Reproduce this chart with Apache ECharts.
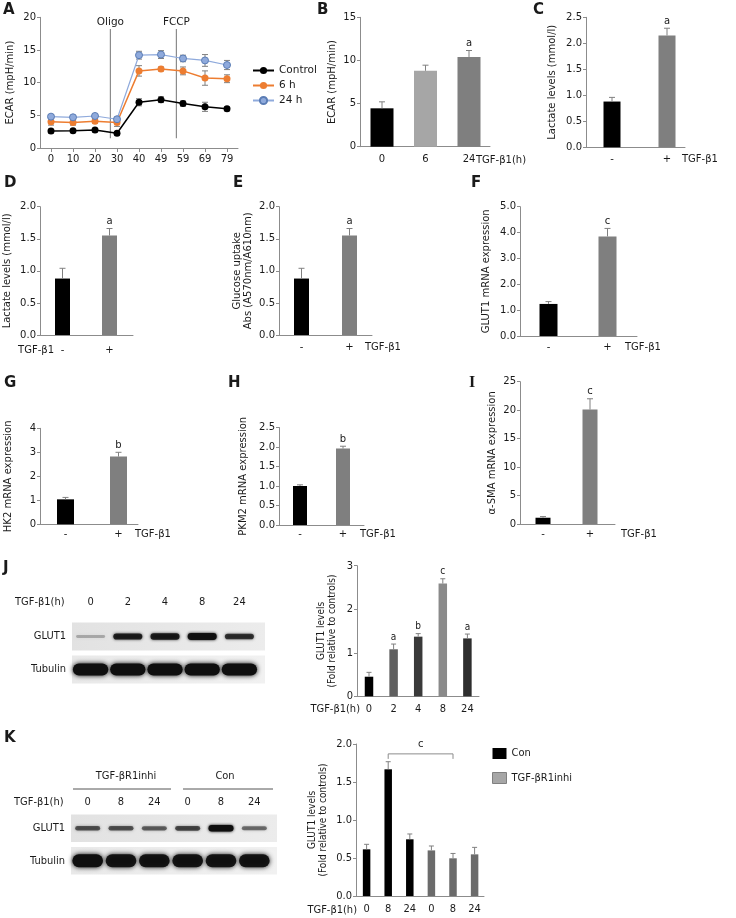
<!DOCTYPE html>
<html><head><meta charset="utf-8">
<script src="https://cdn.jsdelivr.net/npm/echarts@6.0.0/dist/echarts.min.js"></script>
<style>html,body{margin:0;padding:0;background:#fff;}#chart{width:736px;height:918px;}</style>
</head><body><div id="chart"></div>
<script>
// ================= DATA =================
// Panel A: ECAR time course
const aTimes = ['0','10','20','30','40','49','59','69','79'];
const aControl = [2.6, 2.65, 2.75, 2.25, 7.0, 7.4, 6.8, 6.3, 6.0];
const aControlErr = [0.3, 0.25, 0.3, 0.25, 0.55, 0.45, 0.4, 0.7, 0.3];
const a6h = [4.0, 3.9, 4.1, 3.9, 11.8, 12.1, 11.8, 10.7, 10.6];
const a6hErr = [0.5, 0.4, 0.3, 0.6, 0.8, 0.3, 0.6, 1.1, 0.6];
const a24h = [4.8, 4.7, 4.9, 4.4, 14.2, 14.3, 13.7, 13.4, 12.7];
const a24hErr = [0.3, 0.2, 0.3, 0.3, 0.6, 0.6, 0.5, 0.9, 0.7];
const aInjNames = ['Oligo', 'FCCP'];
const aInjPos = [2.7, 5.7];
// Panel B
const bCats = ['0', '6', '24'];
const bVals = [4.45, 8.8, 10.4];
const bErr = [0.75, 0.65, 0.75];
const bSig = ['', '', 'a'];
// Panels C-I (- / + TGF-β1)
const pmCats = ['-', '+'];
const cVals = [0.88, 2.15]; const cErr = [0.08, 0.14]; const cSig = ['', 'a'];
const dVals = [0.88, 1.55]; const dErr = [0.16, 0.11]; const dSig = ['', 'a'];
const eVals = [0.88, 1.55]; const eErr = [0.16, 0.11]; const eSig = ['', 'a'];
const fVals = [1.24, 3.85]; const fErr = [0.09, 0.31]; const fSig = ['', 'c'];
const gVals = [1.04, 2.82]; const gErr = [0.08, 0.18]; const gSig = ['', 'b'];
const hVals = [1.0, 1.96];  const hErr = [0.03, 0.06]; const hSig = ['', 'b'];
const iVals = [1.1, 20.1];  const iErr = [0.2, 1.9];   const iSig = ['', 'c'];
// Panel J
const jCats = ['0', '2', '4', '8', '24'];
const jVals = [0.45, 1.08, 1.37, 2.59, 1.33];
const jErr = [0.10, 0.12, 0.07, 0.11, 0.10];
const jSig = ['', 'a', 'b', 'c', 'a'];
const jRows = ['GLUT1', 'Tubulin'];
const jGlutBands = [0.25, 0.85, 0.88, 0.97, 0.75];
const jTubBands = [1, 1, 1, 1, 1];
// Panel K
const kCats = ['0', '8', '24', '0', '8', '24'];
const kCon = [0.614, 1.667, 0.746];
const kConErr = [0.066, 0.10, 0.07];
const kInhi = [0.60, 0.496, 0.548];
const kInhiErr = [0.058, 0.064, 0.092];
const kSig = ['', '', '', '', '', ''];
const kBracket = [1, 4, 1.87];
const kBracketSig = 'c';
const kRows = ['GLUT1', 'Tubulin'];
const kGlutBands = [0.6, 0.6, 0.55, 0.65, 1.0, 0.5];
const kTubBands = [1, 0.95, 0.95, 0.95, 0.95, 0.95];

// ================= STYLE / LAYOUT =================
const AX = '#8c8c8c', TXT = '#1a1a1a', ERR = '#808080';
const FF = 'DejaVu Sans';
const FFC = 'DejaVu Sans Condensed, DejaVu Sans';
const grids = [], xAxes = [], yAxes = [], series = [], graphics = [];

function addGrid(x0, y0, x1, y1) {
  return grids.push({left: x0, top: y0, width: x1 - x0, height: y1 - y0, outerBoundsMode: 'none', containLabel: false}) - 1;
}
function yAx(gi, L, font) {
  return {gridIndex: gi, type: 'value', min: 0, max: L.ymax, interval: L.int,
    axisLine: {show: true, onZero: false, lineStyle: {color: AX}},
    axisTick: {show: true, length: 3, lineStyle: {color: AX}},
    splitLine: {show: false},
    axisLabel: {color: TXT, fontSize: L.fs || 10, fontFamily: font, margin: 4, formatter: v => v.toFixed(L.dec)},
    name: L.name, nameLocation: 'middle', nameGap: L.ng, nameRotate: 90, nameMoveOverlap: false,
    nameTextStyle: {color: TXT, fontSize: 10, fontFamily: font, lineHeight: 11}};
}
function errRender(sig, cap, color, both, font) {
  return function (params, api) {
    const x = api.value(0), v = api.value(1), e = api.value(2);
    const pt = api.coord([x, v + e]), pm = api.coord([x, v]), pb = api.coord([x, v - e]);
    const st = {stroke: color, lineWidth: 1};
    const ch = [
      {type: 'line', shape: {x1: pt[0], y1: pt[1], x2: pt[0], y2: both ? pb[1] : pm[1]}, style: st},
      {type: 'line', shape: {x1: pt[0] - cap / 2, y1: pt[1], x2: pt[0] + cap / 2, y2: pt[1]}, style: st}
    ];
    if (both) ch.push({type: 'line', shape: {x1: pb[0] - cap / 2, y1: pb[1], x2: pb[0] + cap / 2, y2: pb[1]}, style: st});
    const s = sig ? sig[params.dataIndex] : '';
    if (s) ch.push({type: 'text', style: {text: s, x: pt[0], y: pt[1] - 2, textAlign: 'center', textVerticalAlign: 'bottom',
      fill: TXT, font: '10px ' + font}});
    return {type: 'group', children: ch};
  };
}
function barPanel(L, cats, vals, errs, sig, colors, groups) {
  const font = L.font || FF;
  const gi = addGrid(L.x0, L.yTop, L.x1, L.y0);
  const xi = xAxes.push({gridIndex: gi, type: 'value', min: (L.x0 - L.c0) / L.unit, max: (L.x1 - L.c0) / L.unit,
    axisLine: {show: true, onZero: false, lineStyle: {color: AX}}, axisTick: {show: false}, splitLine: {show: false},
    axisLabel: {customValues: cats.map((c, i) => i), formatter: v => cats[Math.round(v)], color: TXT,
      fontSize: L.fs || 10, fontFamily: font, margin: L.lm}}) - 1;
  const yi = yAxes.push(yAx(gi, L, font)) - 1;
  const grp = groups || [{name: L.id, from: 0, to: cats.length}];
  grp.forEach(g => {
    series.push({type: 'bar', name: g.name, xAxisIndex: xi, yAxisIndex: yi, barWidth: L.bw, barGap: '-100%',
      itemStyle: g.color ? {color: g.color} : undefined,
      data: vals.slice(g.from, g.to).map((v, k) => ({value: [g.from + k, v], itemStyle: {color: colors[g.from + k]}}))});
  });
  series.push({type: 'custom', xAxisIndex: xi, yAxisIndex: yi, z: 3, silent: true,
    data: vals.map((v, i) => [i, v, errs[i]]), renderItem: errRender(sig, L.cap || 6, ERR, false, font)});
  return {gi, xi, yi};
}
function blotPanel(L, lanes, rows, bands) {
  const gi = addGrid(L.x0, L.yTop, L.x1, L.y0);
  const xi = xAxes.push({gridIndex: gi, type: 'category', data: lanes, position: 'top',
    axisLine: {show: false}, axisTick: {show: false}, splitLine: {show: false},
    axisLabel: {margin: L.lm, color: TXT, fontSize: 11, fontFamily: FFC}}) - 1;
  const yi = yAxes.push({gridIndex: gi, type: 'category', data: rows, inverse: true,
    axisLine: {show: false}, axisTick: {show: false}, splitLine: {show: false},
    axisLabel: {margin: 6, color: TXT, fontSize: 11, fontFamily: FFC}}) - 1;
  series.push({type: 'custom', xAxisIndex: xi, yAxisIndex: yi, z: 1, silent: true,
    data: rows.map((r, i) => [0, i]),
    renderItem: (p, api) => {
      const cs = p.coordSys; const r = api.value(1);
      const cy = api.coord([0, r])[1]; const bh = api.size([0, 1])[1] * 0.85;
      return {type: 'rect', shape: {x: cs.x, y: cy - bh / 2, width: cs.width + L.extra, height: bh},
        style: {fill: {type: 'linear', x: 0, y: 0, x2: 1, y2: 0,
          colorStops: [{offset: 0, color: r === 0 ? '#e2e2e2' : '#e9e9e9'}, {offset: 1, color: r === 0 ? '#ececec' : '#f1f1f1'}]}}};
    }});
  const data = [];
  bands.forEach((row, r) => row.forEach((v, i) => data.push([i, r, v])));
  series.push({type: 'custom', xAxisIndex: xi, yAxisIndex: yi, z: 2, silent: true, data,
    renderItem: (p, api) => {
      const i = api.value(0), r = api.value(1), v = api.value(2);
      const c = api.coord([i, r]); const lw = api.size([1, 0])[0];
      const tub = rows[r] === 'Tubulin';
      const w = lw * (tub ? L.tubW : L.gluW);
      const h = tub ? L.tubH : (L.gluH0 + L.gluH * v);
      return {type: 'rect', shape: {x: c[0] - w / 2, y: c[1] - h / 2, width: w, height: h, r: h / 2},
        style: {fill: 'rgba(15,15,15,' + v + ')', shadowBlur: tub ? 5 : 3, shadowColor: 'rgba(0,0,0,' + v + ')'}};
    }});
}
function T(x, y, text, o) {
  o = o || {};
  graphics.push({type: 'text', x, y, silent: true, style: {text, fill: TXT,
    font: (o.bold ? 'bold ' : '') + (o.size || 10) + 'px ' + (o.font || FF),
    textAlign: o.align || 'left', textVerticalAlign: 'middle'}});
}

// ---------- Panel A ----------
const gA = addGrid(40, 17.3, 238, 148);
const xA = xAxes.push({gridIndex: gA, type: 'category', data: aTimes, boundaryGap: true,
  axisLine: {show: true, onZero: false, lineStyle: {color: AX}},
  axisTick: {show: true, alignWithLabel: true, length: 4, lineStyle: {color: AX}},
  axisLabel: {color: TXT, fontSize: 10, fontFamily: FF, margin: 6}, splitLine: {show: false}}) - 1;
const xA2 = xAxes.push({gridIndex: gA, type: 'value', min: -0.5, max: aTimes.length - 0.5, show: false}) - 1;
const yA = yAxes.push(yAx(gA, {ymax: 20, int: 5, dec: 0, name: 'ECAR (mpH/min)', ng: 24}, FF)) - 1;
const INJ_TOP = 18.2, INJ_BOT = 1.5;
series.push({type: 'custom', xAxisIndex: xA2, yAxisIndex: yA, z: 1, silent: true,
  data: aInjPos.map(x => [x, 0]),
  renderItem: (p, api) => {
    const x = api.value(0);
    const t = api.coord([x, INJ_TOP]), b = api.coord([x, INJ_BOT]);
    return {type: 'group', children: [
      {type: 'line', shape: {x1: t[0], y1: t[1], x2: b[0], y2: b[1]}, style: {stroke: '#8c8c8c', lineWidth: 1.2}},
      {type: 'text', style: {text: aInjNames[p.dataIndex], x: t[0], y: t[1] - 1, textAlign: 'center',
        textVerticalAlign: 'bottom', fill: TXT, font: '10.5px ' + FF}}]};
  }});
[[aControl, aControlErr], [a6h, a6hErr], [a24h, a24hErr]].forEach(([v, e]) => {
  series.push({type: 'custom', xAxisIndex: xA, yAxisIndex: yA, z: 1, silent: true,
    data: v.map((y, i) => [i, y, e[i]]), renderItem: errRender(null, 6, ERR, true, FF)});
});
series.push({name: 'Control', type: 'line', xAxisIndex: xA, yAxisIndex: yA, data: aControl, z: 4,
  symbol: 'circle', symbolSize: 7, lineStyle: {color: '#000', width: 1.5}, itemStyle: {color: '#000'}});
series.push({name: '6 h', type: 'line', xAxisIndex: xA, yAxisIndex: yA, data: a6h, z: 4,
  symbol: 'circle', symbolSize: 7, lineStyle: {color: '#ED7D31', width: 1.5}, itemStyle: {color: '#ED7D31'}});
series.push({name: '24 h', type: 'line', xAxisIndex: xA, yAxisIndex: yA, data: a24h, z: 4,
  symbol: 'circle', symbolSize: 7, lineStyle: {color: '#8FAADC', width: 1.2},
  itemStyle: {color: '#8FAADC', borderColor: '#5B7DB5', borderWidth: 1}});

// ---------- Bar panels ----------
barPanel({id: 'B', x0: 360, x1: 490, c0: 382, unit: 43.5, yTop: 17.3, y0: 146.7, ymax: 15, int: 5, dec: 0, bw: 23, lm: 8,
  name: 'ECAR (mpH/min)', ng: 22}, bCats, bVals, bErr, bSig, ['#000000', '#a6a6a6', '#7f7f7f']);
barPanel({id: 'C', x0: 586, x1: 685, c0: 612, unit: 55, yTop: 17.3, y0: 147.3, ymax: 2.5, int: 0.5, dec: 1, bw: 17, lm: 7,
  name: 'Lactate levels (mmol/l)', ng: 28}, pmCats, cVals, cErr, cSig, ['#000000', '#7f7f7f']);
barPanel({id: 'D', x0: 40, x1: 133, c0: 62.5, unit: 47, yTop: 206.7, y0: 335, ymax: 2, int: 0.5, dec: 1, bw: 15, lm: 10,
  name: 'Lactate levels (mmol/l)', ng: 27}, pmCats, dVals, dErr, dSig, ['#000000', '#7f7f7f']);
barPanel({id: 'E', x0: 279, x1: 372, c0: 301.5, unit: 48, yTop: 206.7, y0: 335, ymax: 2, int: 0.5, dec: 1, bw: 15, lm: 7,
  name: 'Glucose uptake\nAbs (A570nm/A610nm)', ng: 25}, pmCats, eVals, eErr, eSig, ['#000000', '#7f7f7f']);
barPanel({id: 'F', x0: 520, x1: 637, c0: 548.5, unit: 59, yTop: 206.7, y0: 336, ymax: 5, int: 1, dec: 1, bw: 18, lm: 6,
  name: 'GLUT1 mRNA expression', ng: 28}, pmCats, fVals, fErr, fSig, ['#000000', '#7f7f7f']);
barPanel({id: 'G', x0: 40, x1: 138, c0: 65.5, unit: 53, yTop: 428.3, y0: 524.3, ymax: 4, int: 1, dec: 0, bw: 17, lm: 5,
  name: 'HK2 mRNA expression', ng: 26}, pmCats, gVals, gErr, gSig, ['#000000', '#7f7f7f']);
barPanel({id: 'H', x0: 279, x1: 364, c0: 300, unit: 43, yTop: 427.5, y0: 525, ymax: 2.5, int: 0.5, dec: 1, bw: 14, lm: 4,
  name: 'PKM2 mRNA expression', ng: 30}, pmCats, hVals, hErr, hSig, ['#000000', '#7f7f7f']);
barPanel({id: 'I', x0: 520, x1: 615, c0: 543, unit: 47, yTop: 381.7, y0: 524, ymax: 25, int: 5, dec: 0, bw: 15, lm: 5,
  name: 'α-SMA mRNA expression', ng: 22}, pmCats, iVals, iErr, iSig, ['#000000', '#7f7f7f']);
barPanel({id: 'J', x0: 357, x1: 479, c0: 369, unit: 24.6, yTop: 565.7, y0: 696.3, ymax: 3, int: 1, dec: 0, bw: 8.5, lm: 7,
  cap: 5, fs: 11, font: FFC, name: 'GLUT1 levels\n(Fold relative to controls)', ng: 19},
  jCats, jVals, jErr, jSig, ['#000000', '#606060', '#3a3a3a', '#8a8a8a', '#2e2e2e']);
const kAll = kCon.concat(kInhi), kAllErr = kConErr.concat(kInhiErr);
const K = barPanel({id: 'K', x0: 356, x1: 484, c0: 366.6, unit: 21.6, yTop: 744, y0: 896, ymax: 2, int: 0.5, dec: 1, bw: 7.5, lm: 8,
  cap: 5, fs: 11, font: FFC, name: 'GLUT1 levels\n(Fold relative to controls)', ng: 27},
  kCats, kAll, kAllErr, kSig, ['#000', '#000', '#000', '#6b6b6b', '#6b6b6b', '#6b6b6b'],
  [{name: 'Con', from: 0, to: kCon.length, color: '#000'},
   {name: 'TGF-βR1inhi', from: kCon.length, to: kAll.length, color: '#6b6b6b'}]);
series.push({type: 'custom', xAxisIndex: K.xi, yAxisIndex: K.yi, z: 3, silent: true, data: [kBracket],
  renderItem: (p, api) => {
    const a = api.coord([api.value(0), api.value(2)]), b = api.coord([api.value(1), api.value(2)]);
    const st = {stroke: '#8c8c8c', lineWidth: 1};
    return {type: 'group', children: [
      {type: 'polyline', shape: {points: [[a[0], a[1] + 5], [a[0], a[1]], [b[0], b[1]], [b[0], b[1] + 5]]}, style: Object.assign({fill: null}, st)},
      {type: 'text', style: {text: kBracketSig, x: (a[0] + b[0]) / 2, y: a[1] - 4, textAlign: 'center', textVerticalAlign: 'bottom',
        fill: TXT, font: '11px ' + FFC}}]};
  }});

// ---------- Blots ----------
blotPanel({x0: 72, x1: 258, yTop: 620, y0: 686, lm: 12, extra: 7, tubW: 0.95, tubH: 12, gluW: 0.78, gluH0: 1.5, gluH: 5.5},
  jCats, jRows, [jGlutBands, jTubBands]);
blotPanel({x0: 71, x1: 271, yTop: 812, y0: 877, lm: 4, extra: 6, tubW: 0.92, tubH: 13, gluW: 0.75, gluH0: 1.5, gluH: 5},
  kCats, kRows, [kGlutBands, kTubBands]);

// ---------- Texts ----------
[['A', 3, 10], ['B', 317, 10], ['C', 533, 10], ['D', 4, 183], ['E', 233, 183], ['F', 471, 183],
 ['G', 4, 383], ['H', 228, 383], ['J', 3, 568], ['K', 4, 738]].forEach(([t, x, y]) => T(x, y, t, {bold: true, size: 15}));
T(469, 383, 'I', {bold: true, size: 16, font: 'Liberation Serif'});
T(476, 160, 'TGF-β1(h)');
T(682, 159, 'TGF-β1');
T(54, 350, 'TGF-β1', {align: 'right'});
T(365, 347, 'TGF-β1');
T(625, 347, 'TGF-β1');
T(135, 534, 'TGF-β1');
T(360, 534, 'TGF-β1');
T(621, 534, 'TGF-β1');
T(360, 709, 'TGF-β1(h)', {align: 'right', size: 11, font: FFC});
T(357, 910, 'TGF-β1(h)', {align: 'right', size: 11, font: FFC});
T(15, 602, 'TGF-β1(h)', {size: 11, font: FFC});
T(14, 802, 'TGF-β1(h)', {size: 11, font: FFC});
T(126, 776, 'TGF-βR1inhi', {align: 'center', size: 11, font: FFC});
T(225, 776, 'Con', {align: 'center', size: 11, font: FFC});
graphics.push({type: 'line', silent: true, shape: {x1: 73, y1: 789, x2: 171, y2: 789}, style: {stroke: '#555', lineWidth: 1}});
graphics.push({type: 'line', silent: true, shape: {x1: 183, y1: 789, x2: 273, y2: 789}, style: {stroke: '#555', lineWidth: 1}});

const option = {
  animation: false, backgroundColor: '#ffffff', textStyle: {fontFamily: FF},
  grid: grids, xAxis: xAxes, yAxis: yAxes, series,
  legend: [
    {data: ['Control', '6 h', '24 h'], orient: 'vertical', left: 252, top: 65, padding: 0, itemWidth: 21, itemHeight: 9, itemGap: 4,
      selectedMode: false, textStyle: {fontSize: 10.5, fontFamily: FF, color: TXT}},
    {data: [{name: 'Con'}, {name: 'TGF-βR1inhi', itemStyle: {color: '#a6a6a6', borderColor: '#808080', borderWidth: 1}}],
      orient: 'vertical', left: 492, top: 748, padding: 0, itemWidth: 14, itemHeight: 11, itemGap: 13, icon: 'rect',
      selectedMode: false, textStyle: {fontSize: 11, fontFamily: FFC, color: TXT}}
  ],
  graphic: {elements: graphics}
};
const chart = echarts.init(document.getElementById('chart'), null, {renderer: 'canvas'});
chart.setOption(option);
</script></body></html>
